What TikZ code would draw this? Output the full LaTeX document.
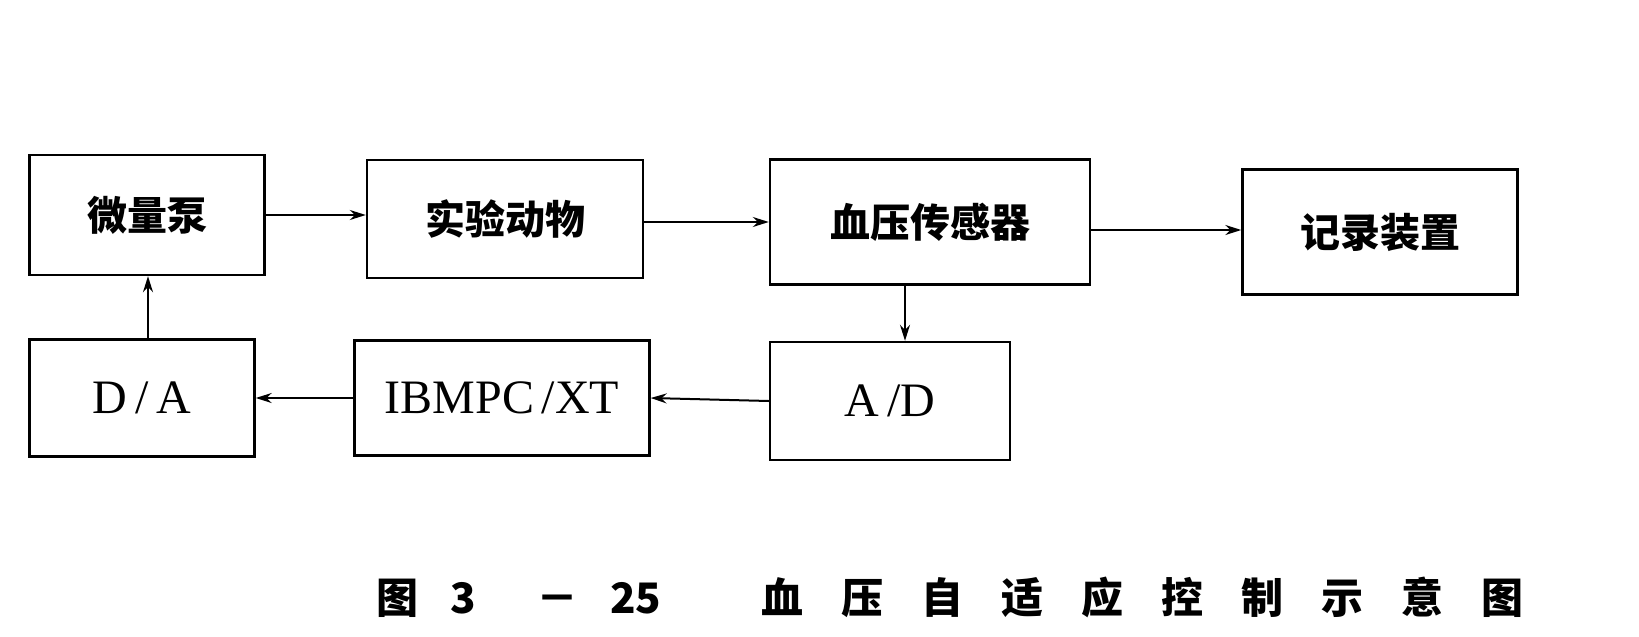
\documentclass[tikz,border=0pt]{standalone}
\usepackage{fontspec}
\setmainfont{Liberation Serif}
\newfontfamily\cjk{Noto Sans CJK SC}
\usetikzlibrary{arrows.meta}
\newlength{\du}
\setlength{\du}{0.5pt}
\tikzset{
  blk/.style={draw, line width=2.4\du, inner sep=0pt, font=\cjk\bfseries\fontsize{20}{22}\selectfont},
  latin/.style={font=\fontsize{24}{26}\selectfont},
  lnk/.style={line width=2\du, -{Stealth[length=8pt,width=5pt]}}
}
\begin{document}
\begin{tikzpicture}[yscale=-1]
\useasboundingbox (0\du,0\du) rectangle (1639\du,637\du);
% top row
\node[blk, minimum width=235\du, minimum height=120\du] (pump) at (147\du,215\du) {微量泵};
\node[blk, minimum width=276\du, minimum height=118\du] (animal) at (505\du,219\du) {实验动物};
\node[blk, minimum width=320\du, minimum height=125\du] (sensor) at (930\du,222\du) {血压传感器};
\node[blk, minimum width=275\du, minimum height=125\du] (rec) at (1380\du,232\du) {记录装置};
% bottom row
\node[blk, latin, minimum width=225\du, minimum height=117\du] (da) at (142\du,398\du) {D\,/\,A};
\node[blk, latin, minimum width=295\du, minimum height=115\du] (pc) at (502\du,398\du) {IBMPC\,/XT};
\node[blk, latin, minimum width=240\du, minimum height=118\du] (ad) at (890\du,401\du) {A\,/D};
% guide points for the connectors
\coordinate (y1) at (0,215\du);
\coordinate (y2) at (0,222\du);
\coordinate (y3) at (0,230\du);
\coordinate (x1) at (905\du,0);
\coordinate (x2) at (148\du,0);
% connectors
\draw[lnk] (pump.east |- y1) -- (animal.west |- y1);
\draw[lnk] (animal.east |- y2) -- (sensor.west |- y2);
\draw[lnk] (sensor.east |- y3) -- (rec.west |- y3);
\draw[lnk] (sensor.south -| x1) -- (ad.north -| x1);
\draw[lnk] (ad.west) -- (pc.east);
\draw[lnk] (pc.west) -- (da.east);
\draw[lnk] (da.north -| x2) -- (pump.south -| x2);
% caption
\node[font=\cjk\bfseries\fontsize{21}{23}\selectfont] (cap) at (950\du,597\du)
  {图\hskip16pt3\hskip30pt－\hskip16pt25\hskip50pt血\hskip19pt压\hskip19pt自\hskip19pt适\hskip19pt应\hskip19pt控\hskip19pt制\hskip19pt示\hskip19pt意\hskip19pt图};
\end{tikzpicture}
\end{document}
